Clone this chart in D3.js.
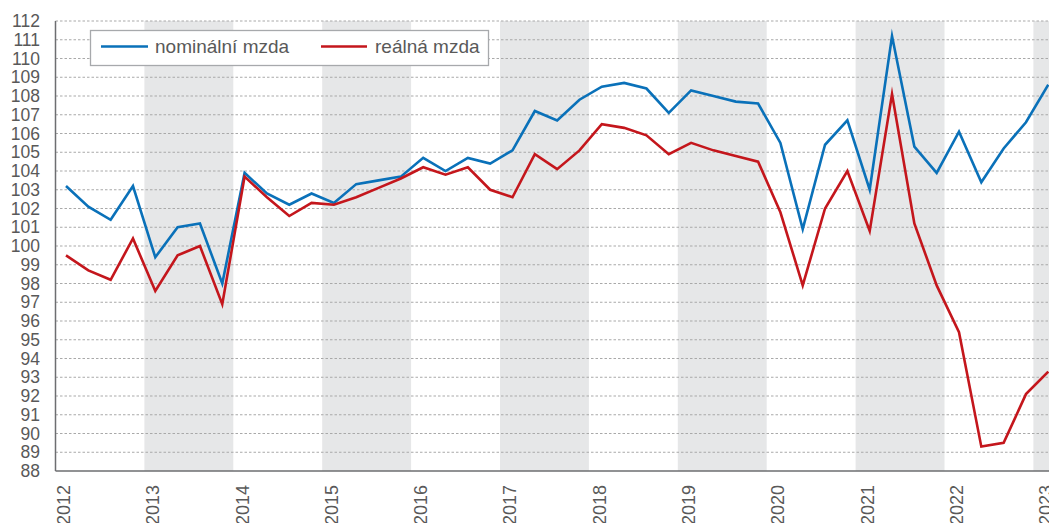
<!DOCTYPE html>
<html>
<head>
<meta charset="utf-8">
<script src="https://cdn.jsdelivr.net/npm/d3@7"></script>
<style>
  html, body { margin: 0; padding: 0; background: #fff; }
  svg { display: block; font-family: "Liberation Sans", Arial, sans-serif; }
</style>
</head>
<body>
<script>
// ---- data ----
const years = [2012, 2013, 2014, 2015, 2016, 2017, 2018, 2019, 2020, 2021, 2022, 2023];
const shadedYears = [2013, 2015, 2017, 2019, 2021, 2023];
const yTicks = [88, 89, 90, 91, 92, 93, 94, 95, 96, 97, 98, 99, 100, 101, 102, 103, 104, 105, 106, 107, 108, 109, 110, 111, 112];
const seriesNames = ["nominální mzda", "reálná mzda"];
// quarterly, 2012Q1 .. 2023Q1
const nominal = [
  103.2, 102.1, 101.4, 103.2,
  99.4, 101.0, 101.2, 98.0,
  103.9, 102.8, 102.2, 102.8,
  102.3, 103.3, 103.5, 103.7,
  104.7, 104.0, 104.7, 104.4,
  105.1, 107.2, 106.7, 107.8,
  108.5, 108.7, 108.4, 107.1,
  108.3, 108.0, 107.7, 107.6,
  105.5, 100.9, 105.4, 106.7,
  103.0, 111.2, 105.3, 103.9,
  106.1, 103.4, 105.2, 106.6,
  108.6
];
const real = [
  99.5, 98.7, 98.2, 100.4,
  97.6, 99.5, 100.0, 96.9,
  103.7, 102.6, 101.6, 102.3,
  102.2, 102.6, 103.1, 103.6,
  104.2, 103.8, 104.2, 103.0,
  102.6, 104.9, 104.1, 105.1,
  106.5, 106.3, 105.9, 104.9,
  105.5, 105.1, 104.8, 104.5,
  101.8, 97.9, 102.0, 104.0,
  100.8, 108.1, 101.2, 97.9,
  95.4, 89.3, 89.5, 92.1,
  93.3
];
const colors = ["#0a71b9", "#c4161c"];

// ---- layout ----
const W = 1049, H = 523;
const plotLeft = 55.5, plotTop = 21, plotBottom = 471;

const svg = d3.select("body").append("svg").attr("width", W).attr("height", H);

const y = d3.scaleLinear().domain([88, 112]).range([plotBottom, plotTop]);
const xYear = d3.scaleLinear().domain([2012, 2024]).range([plotLeft, plotLeft + 12 * 88.9]);
const xPt = d3.scaleLinear().domain([0, nominal.length - 1]).range([66, 1048.3]);

// shaded bands
svg.append("g").selectAll("rect").data(shadedYears).join("rect")
  .attr("x", d => xYear(d))
  .attr("y", plotTop)
  .attr("width", d => Math.min(xYear(d + 1), W) - xYear(d))
  .attr("height", plotBottom - plotTop)
  .attr("fill", "#e6e7e8");

// gridlines
svg.append("g").selectAll("line").data(yTicks.filter(t => t > 88)).join("line")
  .attr("x1", plotLeft).attr("x2", W)
  .attr("y1", d => y(d)).attr("y2", d => y(d))
  .attr("stroke", "#a9a9a9")
  .attr("stroke-width", 1)
  .attr("stroke-dasharray", "2.5,2");

// y axis labels
const yAxis = svg.append("g")
  .attr("transform", `translate(${plotLeft},0)`)
  .call(d3.axisLeft(y).tickValues(yTicks).tickSize(0).tickPadding(15.5).tickFormat(d3.format("d")));
yAxis.select(".domain").remove();
yAxis.selectAll("text")
  .attr("fill", "#595959")
  .style("font-size", "17.5px")
  .style("font-family", "'Liberation Sans', Arial, sans-serif");

// x labels (rotated)
svg.append("g").selectAll("text").data(years).join("text")
  .attr("transform", (d, i) => `translate(${xPt(i * 4) - 2.5},485) rotate(-90)`)
  .attr("text-anchor", "end")
  .attr("dy", "0.36em")
  .attr("fill", "#595959")
  .style("font-size", "18px")
  .text(d => d);

// axis lines
svg.append("line")
  .attr("x1", plotLeft).attr("x2", plotLeft)
  .attr("y1", plotTop).attr("y2", plotBottom)
  .attr("stroke", "#6d6e71").attr("stroke-width", 1.5);
svg.append("line")
  .attr("x1", plotLeft).attr("x2", W)
  .attr("y1", plotBottom).attr("y2", plotBottom)
  .attr("stroke", "#6d6e71").attr("stroke-width", 1.5);

// lines
const line = d3.line().x((d, i) => xPt(i)).y(d => y(d));
[nominal, real].forEach((s, k) => {
  svg.append("path")
    .datum(s)
    .attr("d", line)
    .attr("fill", "none")
    .attr("stroke", colors[k])
    .attr("stroke-width", 2.6)
    .attr("stroke-linejoin", "miter")
    .attr("stroke-miterlimit", 10);
});

// legend
const lg = svg.append("g");
lg.append("rect")
  .attr("x", 90.5).attr("y", 30.5)
  .attr("width", 398).attr("height", 35)
  .attr("fill", "#fff")
  .attr("stroke", "#a7a9ac").attr("stroke-width", 1.3);
const legendItems = [
  { name: seriesNames[0], color: colors[0], x1: 101, x2: 148, tx: 155 },
  { name: seriesNames[1], color: colors[1], x1: 321, x2: 367, tx: 375 }
];
legendItems.forEach(it => {
  lg.append("line")
    .attr("x1", it.x1).attr("x2", it.x2)
    .attr("y1", 46.5).attr("y2", 46.5)
    .attr("stroke", it.color).attr("stroke-width", 2.6);
  lg.append("text")
    .attr("x", it.tx).attr("y", 53)
    .attr("fill", "#595959")
    .style("font-size", "19px")
    .text(it.name);
});
</script>
</body>
</html>
